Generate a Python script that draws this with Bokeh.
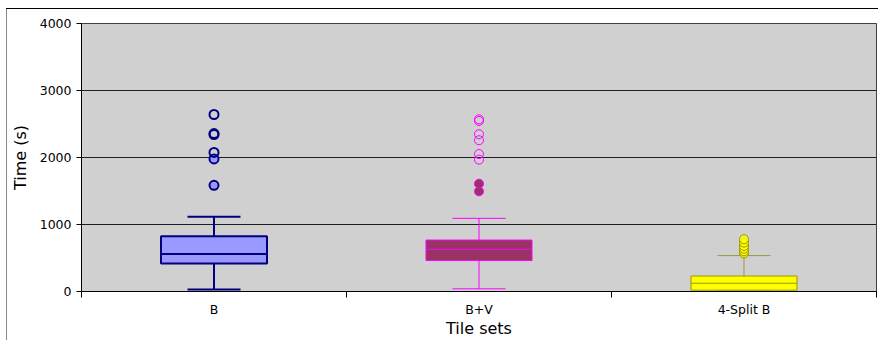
from bokeh.plotting import figure
from bokeh.models import FixedTicker, Range1d
from bokeh.embed import file_html
from bokeh.resources import INLINE

categories = ["B", "B+V", "4-Split B"]
positions = [0.5, 1.5, 2.5]
q1 = [418, 462, 20]
median = [561, 630, 123]
q3 = [826, 768, 231]
whisker_low = [30, 40, 10]
whisker_high = [1117, 1092, 536]
mild_outliers = [[1584, 1978], [1495, 1609], [570, 600, 640, 680, 730, 780]]
extreme_outliers = [[2076, 2342, 2357, 2642], [1968, 2052, 2258, 2347, 2545, 2570], []]
x_title = "Tile sets"
y_title = "Time (s)"

box_fill = ["#9999FF", "#993366", "#FFFF00"]
box_line = ["#000080", "#FF00FF", "#999900"]
whisker_color = ["#000080", "#FF00FF", "#999944"]
line_w = [2, 1, 1]

p = figure(width=878, height=340, output_backend="svg", toolbar_location=None,
           x_range=Range1d(0, 3), y_range=Range1d(0, 4000),
           min_border_left=81, min_border_right=2, min_border_top=23, min_border_bottom=49,
           background_fill_color="#D0D0D0", border_fill_color=None,
           outline_line_color="#404040", outline_line_width=1)
p.styles = {
    "background-color": "white",
    "background-image": "linear-gradient(#000000, #000000), linear-gradient(#888888, #888888)",
    "background-size": "100% 1px, 1px 100%",
    "background-position": "6px 8px, 6px 8px",
    "background-repeat": "no-repeat",
}

p.xgrid.grid_line_color = None
p.ygrid.grid_line_color = "#000000"
p.ygrid.grid_line_alpha = 0.85
p.ygrid.ticker = FixedTicker(ticks=[1000, 2000, 3000])

p.yaxis.ticker = FixedTicker(ticks=[0, 1000, 2000, 3000, 4000])
p.yaxis.major_tick_out = 5
p.yaxis.major_tick_in = 0
p.yaxis.minor_tick_line_color = None
p.yaxis.axis_label = y_title
p.yaxis.axis_label_text_font = "DejaVu Sans"
p.yaxis.axis_label_text_font_size = "16px"
p.yaxis.axis_label_text_font_style = "normal"
p.yaxis.axis_label_text_color = "black"
p.yaxis.axis_label_standoff = 7
p.yaxis.major_label_text_font = "DejaVu Sans"
p.yaxis.major_label_text_font_size = "12.5px"
p.yaxis.major_label_text_color = "black"
p.yaxis.major_label_standoff = 5
p.yaxis.axis_line_color = "black"

p.xaxis.ticker = FixedTicker(ticks=positions, minor_ticks=[0, 1, 2, 3])
p.xaxis.major_label_overrides = {pos: c for pos, c in zip(positions, categories)}
p.xaxis.major_tick_line_color = None
p.xaxis.major_tick_out = 0
p.xaxis.major_tick_in = 0
p.xaxis.minor_tick_out = 6
p.xaxis.minor_tick_in = 0
p.xaxis.minor_tick_line_color = "black"
p.xaxis.major_label_text_font = "DejaVu Sans"
p.xaxis.major_label_text_font_size = "12.5px"
p.xaxis.major_label_text_color = "black"
p.xaxis.major_label_standoff = 4
p.xaxis.axis_line_color = "black"
p.xaxis.axis_label = x_title
p.xaxis.axis_label_text_font = "DejaVu Sans"
p.xaxis.axis_label_text_font_size = "16px"
p.xaxis.axis_label_text_font_style = "normal"
p.xaxis.axis_label_text_color = "black"
p.xaxis.axis_label_standoff = -1

for i, x in enumerate(positions):
    c = whisker_color[i]
    lw = line_w[i]
    p.segment(x0=[x, x], y0=[whisker_low[i], q3[i]], x1=[x, x], y1=[q1[i], whisker_high[i]],
              line_color=c, line_width=lw)
    p.segment(x0=[x - 0.1, x - 0.1], y0=[whisker_low[i], whisker_high[i]],
              x1=[x + 0.1, x + 0.1], y1=[whisker_low[i], whisker_high[i]],
              line_color=c, line_width=lw)
    p.vbar(x=[x], width=0.4, bottom=[q1[i]], top=[q3[i]],
           fill_color=box_fill[i], line_color=box_line[i], line_width=lw)
    p.segment(x0=[x - 0.2], y0=[median[i]], x1=[x + 0.2], y1=[median[i]],
              line_color=box_line[i], line_width=lw)
    if mild_outliers[i]:
        p.scatter(x=[x] * len(mild_outliers[i]), y=mild_outliers[i], size=9,
                  fill_color=box_fill[i], fill_alpha=0.8 if i == 2 else 1.0,
                  line_color=box_line[i], line_width=lw)
    if extreme_outliers[i]:
        p.scatter(x=[x] * len(extreme_outliers[i]), y=extreme_outliers[i], size=9,
                  fill_color=None, line_color=box_line[i], line_width=lw)

open("out.html", "w").write(file_html(p, INLINE))
